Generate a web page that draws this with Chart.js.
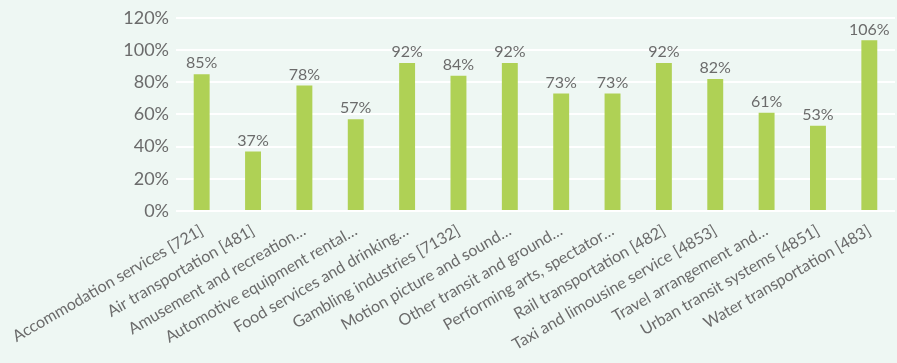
<!DOCTYPE html>
<html><head><meta charset="utf-8">
<script src="https://cdn.jsdelivr.net/npm/chart.js@4.4.0/dist/chart.umd.min.js"></script>
<style>
html,body{margin:0;padding:0;background:#eef7f3;}
#wrap{width:897px;height:363px;position:relative;}
</style></head>
<body><div id="wrap"><canvas id="c"></canvas></div>
<script>
const categories = [
  "Accommodation services [721]",
  "Air transportation [481]",
  "Amusement and recreation…",
  "Automotive equipment rental…",
  "Food services and drinking…",
  "Gambling industries [7132]",
  "Motion picture and sound…",
  "Other transit and ground…",
  "Performing arts, spectator…",
  "Rail transportation [482]",
  "Taxi and limousine service [4853]",
  "Travel arrangement and…",
  "Urban transit systems [4851]",
  "Water transportation [483]"
];
const values = [85, 37, 78, 57, 92, 84, 92, 73, 73, 92, 82, 61, 53, 106];
const yTicks = [0, 20, 40, 60, 80, 100, 120];

const FONT = "Lato, 'Noto Sans', sans-serif";
const TEXT = '#6b6b6b';

const valueLabels = {
  id: 'valueLabels',
  afterDatasetsDraw(chart) {
    const ctx = chart.ctx;
    const meta = chart.getDatasetMeta(0);
    ctx.save();
    ctx.font = '16px ' + FONT;
    ctx.fillStyle = TEXT;
    ctx.textAlign = 'center';
    ctx.textBaseline = 'bottom';
    meta.data.forEach((bar, i) => {
      ctx.fillText(values[i] + '%', bar.x, bar.y - 3);
    });
    ctx.restore();
  }
};

new Chart(document.getElementById('c'), {
  type: 'bar',
  data: {
    labels: categories,
    datasets: [{
      data: values,
      backgroundColor: '#afd155',
      borderWidth: 0,
      barPercentage: 0.62,
      categoryPercentage: 0.5
    }]
  },
  options: {
    responsive: true,
    maintainAspectRatio: false,
    animation: false,
    layout: { padding: { left: 0, right: 2, top: 11, bottom: 7 } },
    plugins: { legend: { display: false }, tooltip: { enabled: false } },
    scales: {
      x: {
        grid: { display: false },
        border: { display: false },
        ticks: {
          color: TEXT,
          font: { family: FONT, size: 16 },
          minRotation: 30,
          maxRotation: 30,
          autoSkip: false,
          padding: 2
        }
      },
      y: {
        min: 0,
        max: 120,
        afterBuildTicks(axis) { axis.ticks = yTicks.map(v => ({ value: v })); },
        afterFit(axis) { axis.width = 176; },
        grid: { color: '#ffffff', lineWidth: 2, drawTicks: false },
        border: { display: false },
        ticks: {
          color: TEXT,
          font: { family: FONT, size: 18 },
          padding: 7,
          callback: v => v + '%'
        }
      }
    }
  },
  plugins: [valueLabels]
});
</script>
</body></html>
